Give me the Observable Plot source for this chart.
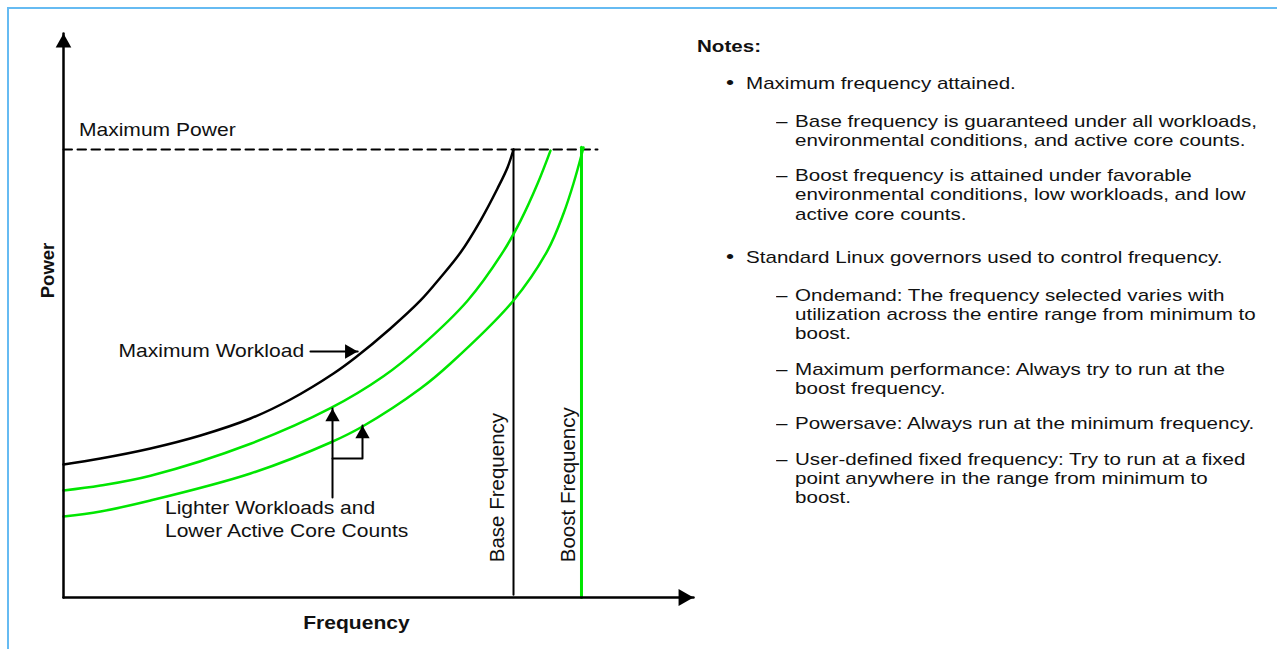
<!DOCTYPE html>
<html>
<head>
<meta charset="utf-8">
<script src="https://cdn.jsdelivr.net/npm/d3@7"></script>
<script src="https://cdn.jsdelivr.net/npm/@observablehq/plot@0.6"></script>
<style>
  html, body { margin:0; padding:0; background:#fff; }
  body { width:1277px; height:649px; overflow:hidden; position:relative; font-family:"Liberation Sans", Arial, Helvetica, sans-serif; }
  #frame { position:absolute; left:7px; top:7px; width:1400px; height:800px; border-left:2px solid #66bbf2; border-top:2px solid #66bbf2; }
  #chart { position:absolute; left:0; top:0; width:720px; height:649px; }
  #chart svg { overflow: visible; }
  .note { position:absolute; white-space:nowrap; font-size:17px; line-height:20px; color:#111; transform:scaleX(1.21); transform-origin:0 50%; }
  .note.title { font-weight:bold; }
  .note.bullet { font-size:19px; }
</style>
</head>
<body>
<div id="frame"></div>
<div id="chart"></div>
<div id="notes"></div>
<script>
// ---------- Data (frequency and power in relative units, 0–100) ----------
const maxWorkloadFreq  = [0, 5.87, 13.81, 21.75, 29.68, 36.03, 42.86, 46.35, 51.9, 56.67, 59.84, 63.02, 66.19, 68.89, 70.48, 71.43];
const maxWorkloadPower = [23.75, 24.82, 26.61, 28.93, 31.96, 35.36, 40.0, 42.86, 48.04, 53.04, 57.14, 61.61, 67.32, 73.04, 76.79, 80];

const lighter1Freq  = [0, 5.87, 13.81, 29.68, 42.38, 50.79, 56.67, 64.13, 69.84, 72.54, 75.24, 77.3];
const lighter1Power = [19.11, 20.0, 21.75, 27.46, 33.8, 39.5, 44.8, 53.0, 61.85, 67.25, 73.87, 79.8];

const lighter2Freq  = [0, 5.87, 13.81, 29.68, 42.38, 47.46, 56.67, 61.43, 71.43, 76.83, 79.37, 80.95, 82.54];
const lighter2Power = [14.46, 15.36, 17.32, 22.14, 27.68, 30.54, 37.32, 41.79, 53.04, 61.96, 68.57, 73.93, 80.36];

const maxPower = 80;
const maxPowerLineEnd = 84.76;
const baseFrequency = 71.43;
const boostFrequency = 82.22;
const axisTipFreq = 100;
const axisTipPower = 100.7;

// annotation arrows: [from, to] in (freq, power)
const workloadArrowFreq = [39.2, 46.7];
const workloadArrowPower = [43.93, 43.93];
const lighterArrowFreq = [42.7, 42.7];
const lighterArrowPower = [17.86, 33.75];
const lighterElbowFreq = [42.7, 47.46, 47.46];
const lighterElbowPower = [24.82, 24.82, 30.71];

// texts
const labelMaxPower = "Maximum Power";
const labelMaxWorkload = "Maximum Workload";
const labelLighter = "Lighter Workloads and\nLower Active Core Counts";
const labelBase = "Base Frequency";
const labelBoost = "Boost Frequency";
const labelXAxis = "Frequency";
const labelYAxis = "Power";

const noteTitle = "Notes:";
const noteLevels = [1, 2, 2, 1, 2, 2, 2, 2];
const noteLines = [
  ["Maximum frequency attained."],
  ["Base frequency is guaranteed under all workloads,", "environmental conditions, and active core counts."],
  ["Boost frequency is attained under favorable", "environmental conditions, low workloads, and low", "active core counts."],
  ["Standard Linux governors used to control frequency."],
  ["Ondemand: The frequency selected varies with", "utilization across the entire range from minimum to", "boost."],
  ["Maximum performance: Always try to run at the", "boost frequency."],
  ["Powersave: Always run at the minimum frequency."],
  ["User-defined fixed frequency: Try to run at a fixed", "point anywhere in the range from minimum to", "boost."]
];
const noteMarkers = {1: "\u2022", 2: "\u2013"};

// ---------- Build ----------
const pts = (fs, ps) => fs.map((f, i) => ({f, p: ps[i]}));
const blackCurve = pts(maxWorkloadFreq, maxWorkloadPower);
const green1 = pts(lighter1Freq, lighter1Power);
const green2 = pts(lighter2Freq, lighter2Power);
const GREEN = "#00e600";

const tipUp = {draw(ctx, size) { const r = Math.sqrt(size / Math.PI); ctx.moveTo(0, 0); ctx.lineTo(-1.3 * r, 2.3 * r); ctx.lineTo(1.3 * r, 2.3 * r); ctx.closePath(); }};
const tipRight = {draw(ctx, size) { const r = Math.sqrt(size / Math.PI); ctx.moveTo(0, 0); ctx.lineTo(-2.3 * r, -1.3 * r); ctx.lineTo(-2.3 * r, 1.3 * r); ctx.closePath(); }};

const FONT = "'Liberation Sans', Arial, Helvetica, sans-serif";

const chart = Plot.plot({
  width: 720,
  height: 649,
  marginTop: 0, marginRight: 0, marginBottom: 0, marginLeft: 0,
  x: {domain: [0, 100], range: [63, 693], axis: null},
  y: {domain: [0, 100], range: [597, 37], axis: null},
  style: {background: "transparent", fontFamily: FONT, color: "#000", overflow: "visible"},
  marks: [
    // maximum power dashed line
    Plot.line(pts([0, maxPowerLineEnd], [maxPower, maxPower]), {x: "f", y: "p", stroke: "#000", strokeWidth: 2, strokeDasharray: "8.5,5.5"}),
    // base frequency line
    Plot.line(pts([baseFrequency, baseFrequency], [0.5, maxPower]), {x: "f", y: "p", stroke: "#000", strokeWidth: 2}),
    // curves
    Plot.line(green2, {x: "f", y: "p", stroke: GREEN, strokeWidth: 2.5, curve: "catmull-rom"}),
    Plot.line(green1, {x: "f", y: "p", stroke: GREEN, strokeWidth: 2.5, curve: "catmull-rom"}),
    Plot.line(blackCurve, {x: "f", y: "p", stroke: "#000", strokeWidth: 2.5, curve: "catmull-rom"}),
    // boost frequency line
    Plot.line(pts([boostFrequency, boostFrequency], [0, maxPower + 0.4]), {x: "f", y: "p", stroke: GREEN, strokeWidth: 3}),
    // axes
    Plot.line(pts([0, 0], [0, axisTipPower]), {x: "f", y: "p", stroke: "#000", strokeWidth: 2.5}),
    Plot.line(pts([0, axisTipFreq], [0, 0]), {x: "f", y: "p", stroke: "#000", strokeWidth: 2.5}),
    Plot.dot(pts([0], [axisTipPower]), {x: "f", y: "p", symbol: tipUp, r: 6, fill: "#000", stroke: "none"}),
    Plot.dot(pts([axisTipFreq], [0]), {x: "f", y: "p", symbol: tipRight, r: 6.5, fill: "#000", stroke: "none"}),
    // annotation arrows
    Plot.line(pts(workloadArrowFreq, workloadArrowPower), {x: "f", y: "p", stroke: "#000", strokeWidth: 2}),
    Plot.dot(pts([workloadArrowFreq[1]], [workloadArrowPower[1]]), {x: "f", y: "p", symbol: tipRight, r: 5.5, fill: "#000", stroke: "none"}),
    Plot.line(pts(lighterArrowFreq, lighterArrowPower), {x: "f", y: "p", stroke: "#000", strokeWidth: 2}),
    Plot.line(pts(lighterElbowFreq, lighterElbowPower), {x: "f", y: "p", stroke: "#000", strokeWidth: 2}),
    Plot.dot(pts([lighterArrowFreq[1], lighterElbowFreq[2]], [lighterArrowPower[1], lighterElbowPower[2]]), {x: "f", y: "p", symbol: tipUp, r: 5.5, fill: "#000", stroke: "none"}),
    // texts
    Plot.text([labelMaxPower], {x: () => 2.45, y: () => 83.36, text: d => d, textAnchor: "start", lineAnchor: "middle", fontSize: 18, fill: "#111"}),
    Plot.text([labelMaxWorkload], {x: () => 38.2, y: () => 43.93, text: d => d, textAnchor: "end", lineAnchor: "middle", fontSize: 18, fill: "#111"}),
    Plot.text([labelLighter], {x: () => 16.1, y: () => 14.14, text: d => d, textAnchor: "start", lineAnchor: "middle", lineHeight: 1.28, fontSize: 18, fill: "#111"}),
    Plot.text([labelXAxis], {x: () => 46.5, y: () => -4.68, text: d => d, textAnchor: "middle", lineAnchor: "middle", fontSize: 18, fontWeight: "bold", fill: "#111"}),
    Plot.text([labelYAxis], {x: () => -2.5, y: () => 58.4, text: d => d, textAnchor: "middle", lineAnchor: "middle", rotate: -90, fontSize: 18.5, fontWeight: "bold", fill: "#111"}),
    Plot.text([labelBase], {x: () => 68.8, y: () => 6.3, text: d => d, textAnchor: "start", lineAnchor: "middle", rotate: -90, fontSize: 20.5, fill: "#111"}),
    Plot.text([labelBoost], {x: () => 80.22, y: () => 6.3, text: d => d, textAnchor: "start", lineAnchor: "middle", rotate: -90, fontSize: 20.5, fill: "#111"})
  ]
});

// widen horizontal labels slightly to match the reference's letter proportions
chart.querySelectorAll("text").forEach(t => {
  const tr = t.getAttribute("transform") || "";
  if (tr.includes("rotate")) return;
  if (tr) t.setAttribute("transform", tr + " scale(1.17,1)");
  else {
    const x = +t.getAttribute("x") || 0, y = +t.getAttribute("y") || 0;
    t.setAttribute("transform", `translate(${x},${y}) scale(1.17,1) translate(${-x},${-y})`);
  }
});
document.getElementById("chart").appendChild(chart);

// ---------- Notes ----------
const notes = document.getElementById("notes");
function addLine(text, left, center, cls) {
  const d = document.createElement("div");
  d.className = "note" + (cls ? " " + cls : "");
  d.textContent = text;
  d.style.left = left + "px";
  d.style.top = (center - 8.5) + "px";
  notes.appendChild(d);
}
const titleCenter = 45, lineStep = 19.2;
const gapAfter = {"0-1": 37, "1-2": 38, "2-2": 35.5, "2-1": 43, "1-1": 40};
const markerLeft = {1: 726, 2: 776}, textLeft = {1: 746, 2: 795};
addLine(noteTitle, 697, titleCenter, "title");
let prevLevel = 0, lastCenter = titleCenter;
noteLines.forEach((lines, i) => {
  const lvl = noteLevels[i];
  const c = lastCenter + gapAfter[prevLevel + "-" + lvl];
  addLine(noteMarkers[lvl], markerLeft[lvl], lvl === 1 ? c - 1 : c, lvl === 1 ? "bullet" : "");
  lines.forEach((ln, j) => addLine(ln, textLeft[lvl], c + j * lineStep));
  lastCenter = c + (lines.length - 1) * lineStep;
  prevLevel = lvl;
});
</script>
</body>
</html>
